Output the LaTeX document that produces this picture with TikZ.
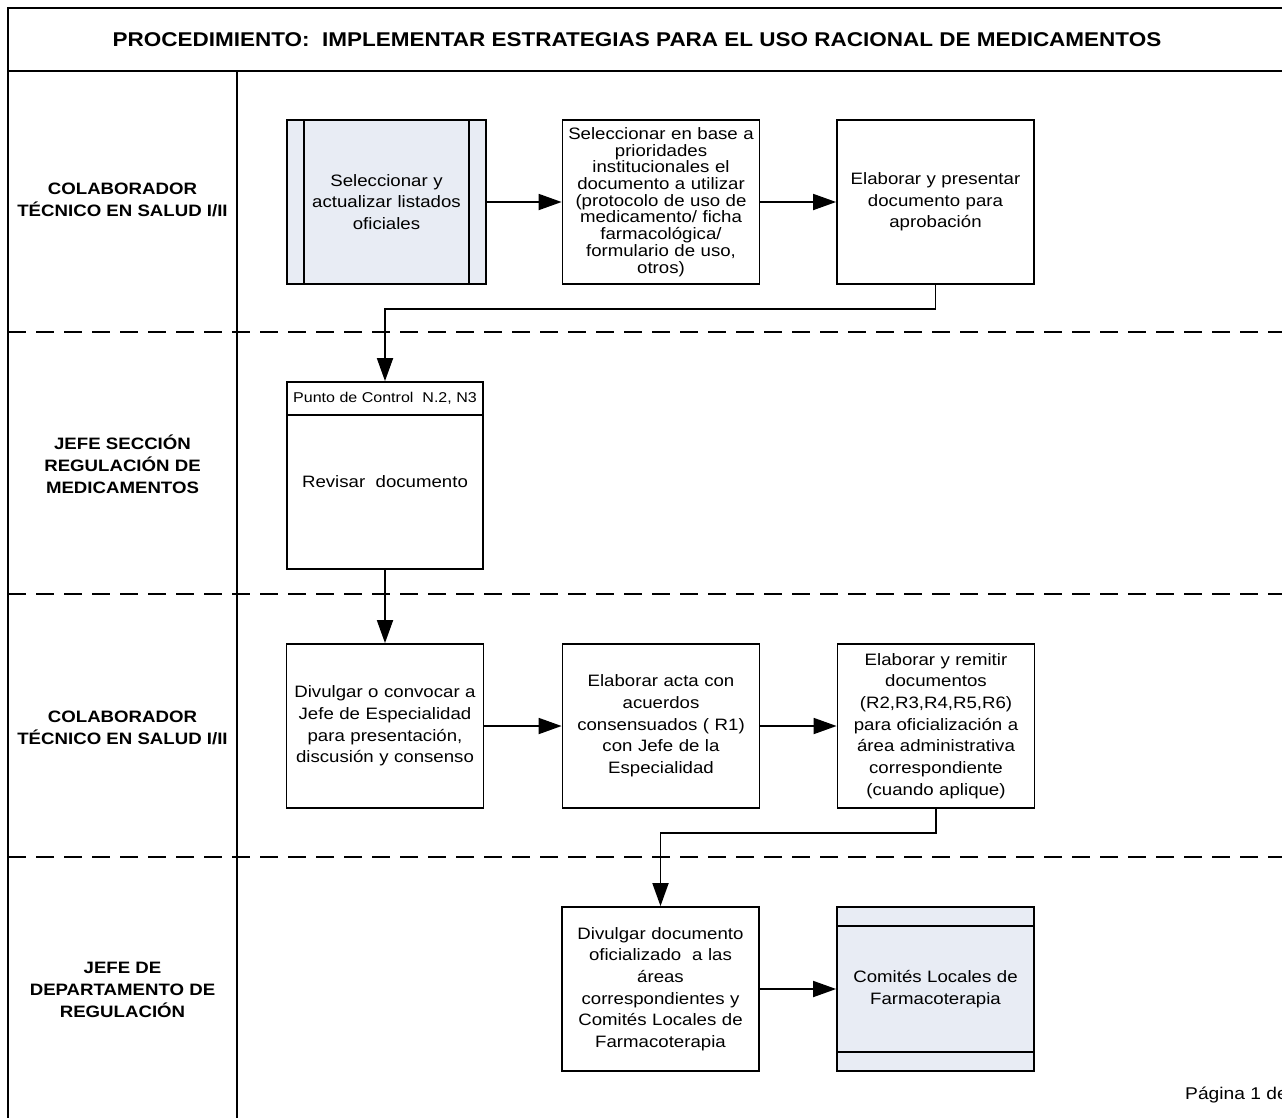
\documentclass[tikz,border=0pt]{standalone}
\usepackage{fontspec}
\setmainfont{Liberation Sans}[FakeStretch=1.13]
\usepackage{xcolor}
\usepackage{tikz}
\usetikzlibrary{arrows.meta, positioning, calc}
\definecolor{procfill}{RGB}{232, 236, 244}

\begin{document}
\begin{tikzpicture}[x=1pt, y=-1pt, line width=1.8pt,
    actbox/.style={draw, rectangle, minimum width=197pt, minimum height=164pt, inner sep=0pt, text width=190pt, align=center, font=\fontsize{16.5}{21.7}\selectfont},
    lanetext/.style={align=center, font=\fontsize{16.5}{22}\selectfont\bfseries},
    flow/.style={-{Triangle[length=23pt, width=16pt]}},
    lanesep/.style={dash pattern=on 18pt off 10pt}]
    \useasboundingbox (0,0) rectangle (1282,1117);
    \clip (0,0) rectangle (1282,1117);

    % Frame and lanes
    \draw (8,1140) -- (8,8) -- (1300,8);
    \draw (8,71) -- (1300,71);
    \draw (237,71) -- (237,1140);
    \foreach \y in {332, 594, 857} \draw[lanesep] (8,\y) -- (1300,\y);
    \node[font=\fontsize{19.9}{24}\selectfont\bfseries] (title) at (637, 40) {PROCEDIMIENTO:~ IMPLEMENTAR ESTRATEGIAS PARA EL USO RACIONAL DE MEDICAMENTOS};

    % Lane labels
    \node[lanetext] (lane1) at (122.5, 200) {COLABORADOR\\TÉCNICO EN SALUD I/II};
    \node[lanetext] (lane2) at (122.5, 464) {JEFE SECCIÓN\\REGULACIÓN DE\\MEDICAMENTOS};
    \node[lanetext] (lane3) at (122.5, 728) {COLABORADOR\\TÉCNICO EN SALUD I/II};
    \node[lanetext] (lane4) at (122.5, 990) {JEFE DE\\DEPARTAMENTO DE\\REGULACIÓN};

    % Lane 1
    \node[actbox, fill=procfill, minimum width=199pt, minimum height=164pt] (sel) at (386.5, 202) {Seleccionar y\\actualizar listados\\oficiales};
    \draw ([xshift=18pt]sel.north west) -- ([xshift=18pt]sel.south west);
    \draw ([xshift=-18pt]sel.north east) -- ([xshift=-18pt]sel.south east);
    \node[actbox, font=\fontsize{16.5}{16.7}\selectfont] (prio) at (661, 202) {Seleccionar en base a\\prioridades\\institucionales el\\documento a utilizar\\(protocolo de uso de\\medicamento/ ficha\\farmacológica/\\formulario de uso,\\otros)};
    \node[actbox] (elab) at (935.5, 202) {Elaborar y presentar\\documento para\\aprobación};

    % Lane 2 (control point)
    \node[draw, minimum width=196pt, minimum height=187pt] (rev) at (385, 475.5) {};
    \draw ([yshift=-34pt]rev.north west) -- ([yshift=-34pt]rev.north east);
    \node[font=\fontsize{14.2}{17}\selectfont] (revhead) at ([yshift=-17pt]rev.north) {Punto de Control~ N.2, N3};
    \node[font=\fontsize{16.5}{20}\selectfont] (revtext) at (385, 482) {Revisar~ documento};

    % Lane 3
    \node[actbox] (divu) at (385, 726) {Divulgar o convocar a\\Jefe de Especialidad\\para presentación,\\discusión y consenso};
    \node[actbox] (acta) at (661, 726) {Elaborar acta con\\acuerdos\\consensuados ( R1)\\con Jefe de la\\Especialidad};
    \node[actbox] (remi) at (936, 726) {Elaborar y remitir\\documentos\\(R2,R3,R4,R5,R6)\\para oficialización a\\área administrativa\\correspondiente\\(cuando aplique)};

    % Lane 4
    \node[actbox] (ofic) at (660.5, 989) {Divulgar documento\\oficializado~ a las\\áreas\\correspondientes y\\Comités Locales de\\Farmacoterapia};
    \node[actbox, fill=procfill] (comi) at (935.5, 989) {Comités Locales de\\Farmacoterapia};
    \draw ([yshift=-20pt]comi.north west) -- ([yshift=-20pt]comi.north east);
    \draw ([yshift=20pt]comi.south west) -- ([yshift=20pt]comi.south east);

    % Flow
    \draw[flow] (sel.east) -- (prio.west);
    \draw[flow] (prio.east) -- (elab.west);
    \draw[flow] (elab.south) -- ++(0,24) -| (rev.north);
    \draw[flow] (rev.south) -- (divu.north);
    \draw[flow] (divu.east) -- (acta.west);
    \draw[flow] (acta.east) -- (remi.west);
    \draw[flow] (remi.south) -- ++(0,24) -| (ofic.north);
    \draw[flow] (ofic.east) -- (comi.west);

    \node[anchor=west, font=\fontsize{17}{20}\selectfont] (pagina) at (1181, 1095) {Página 1 de};
\end{tikzpicture}
\end{document}
